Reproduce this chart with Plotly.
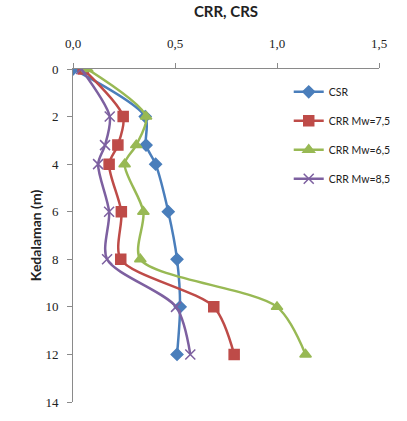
import plotly.graph_objects as go

# Depth (m) of each sample point
depth = [0, 2, 3.2, 4, 6, 8, 10, 12]

# Cyclic stress ratio and cyclic resistance ratios
csr = [0.0, 0.354, 0.358, 0.405, 0.467, 0.51, 0.525, 0.51]
crr_75 = [0.05, 0.246, 0.22, 0.177, 0.237, 0.234, 0.69, 0.79]
crr_65 = [0.07, 0.358, 0.31, 0.253, 0.345, 0.33, 1.0, 1.14]
crr_85 = [0.04, 0.18, 0.157, 0.123, 0.177, 0.167, 0.505, 0.575]

x_ticks = [0.0, 0.5, 1.0, 1.5]
y_ticks = [0, 2, 4, 6, 8, 10, 12, 14]

series = [
    ("CSR", csr, "#4A7EBB", "diamond", 9),
    ("CRR Mw=7,5", crr_75, "#BE4B48", "square", 10),
    ("CRR Mw=6,5", crr_65, "#98B954", "triangle-up", 10),
    ("CRR Mw=8,5", crr_85, "#7D60A0", "x-thin-open", 10),
]

fig = go.Figure()
for name, vals, color, symbol, size in series:
    fig.add_trace(go.Scatter(
        x=vals, y=depth, name=name, mode="lines+markers", legendgroup=name,
        line=dict(color=color, width=2.5, shape="spline", smoothing=0.8),
        marker=dict(symbol=symbol, size=size, color=color,
                    line=dict(color=color, width=1.5)),
    ))

tick_font = dict(family="Liberation Serif, DejaVu Serif, serif", size=13,
                 color="#222222")

fig.update_layout(
    width=407, height=421,
    margin=dict(l=73, r=12, t=69, b=11),
    paper_bgcolor="white", plot_bgcolor="white",
    separators=",.",
    font=dict(family="Lato, Noto Sans, sans-serif", size=12, color="#222222"),
    title=dict(text="<b>CRR, CRS</b>", x=0.5, xanchor="center", xref="paper",
               y=0.972, yanchor="middle", font=dict(size=15)),
    legend=dict(x=0.705, y=0.975, xanchor="left", yanchor="top",
                bgcolor="rgba(0,0,0,0)", font=dict(size=10.5),
                itemwidth=30, traceorder="grouped", tracegroupgap=10),
    showlegend=True,
)

fig.update_xaxes(
    side="top", range=[0, 1.5], tickvals=x_ticks, tickformat=".1f",
    showgrid=False, zeroline=False, showline=True, linecolor="#8a8a8a",
    linewidth=1, ticks="outside", ticklen=5, tickcolor="#8a8a8a",
    tickfont=tick_font, ticklabelstandoff=10,
)
fig.update_yaxes(
    range=[14, 0], tickvals=y_ticks, showgrid=False, zeroline=False,
    showline=True, linecolor="#8a8a8a", linewidth=1, ticks="outside",
    ticklen=5, tickcolor="#8a8a8a", tickfont=tick_font, ticklabelstandoff=6,
    title=dict(text="<b>Kedalaman (m)</b>", font=dict(size=14), standoff=0),
)

fig.write_html("out.html")
